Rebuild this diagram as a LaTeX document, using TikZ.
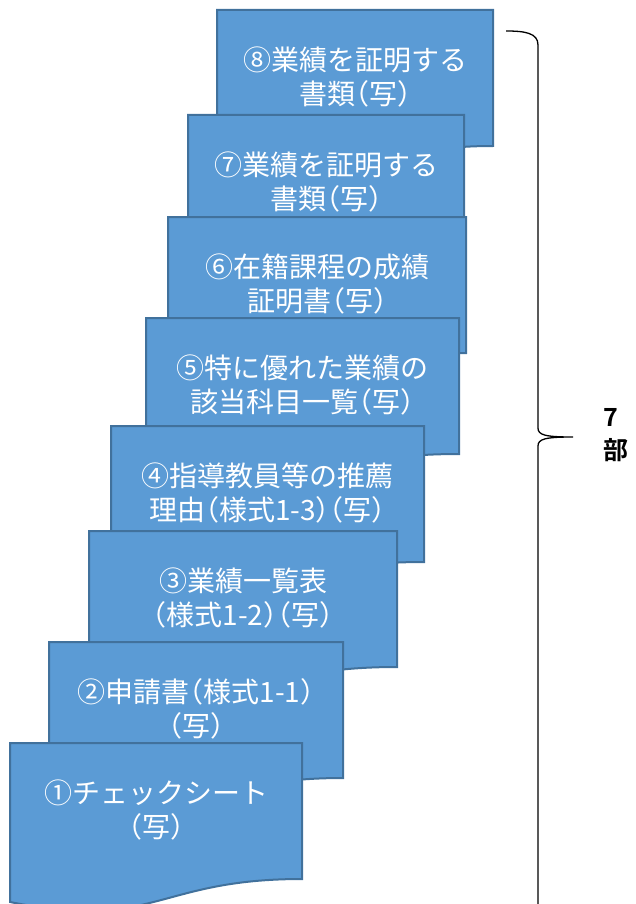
\documentclass[tikz,border=0pt]{standalone}
\usepackage{fontspec}
\usetikzlibrary{calc, positioning}
\newfontfamily\jpfont{Noto Sans CJK JP}[RawFeature=+halt, BoldFont={Noto Sans CJK JP Bold}]
\definecolor{doc_blue}{RGB}{91, 155, 213}
\definecolor{doc_border}{RGB}{65, 113, 156}
\tikzset {
  docpage/.style = {draw=doc_border, fill=doc_blue, line width=2pt, line join=miter},
  doctext/.style = {text=white, align=center, inner sep=0, font=\jpfont\fontsize{28}{34}\selectfont},
  bracket/.style = {draw, black, line width=1.3pt},
  countlabel/.style = {align=left, anchor=north west, inner sep=0, font=\jpfont\bfseries\fontsize{25}{33}\selectfont},
}

\begin{document}
\begin{tikzpicture}[x=1pt, y=-1pt]
  \useasboundingbox (0,0) rectangle (635,904);

  % pages, back to front: name/left/top/width/text
  \foreach \n/\l/\t/\w/\txt in {
      page8/217/10/276/{⑧業績を証明する\\書類（写）},
      page7/188/115/276/{⑦業績を証明する\\書類（写）},
      page6/168/217/298/{⑥在籍課程の成績\\証明書（写）},
      page5/146/318/313/{⑤特に優れた業績の\\該当科目一覧（写）},
      page4/111/426/313/{④指導教員等の推薦\\理由（様式1-3）（写）},
      page3/89/531/308/{③業績一覧表\\（様式1-2）（写）},
      page2/49/642/294/{②申請書（様式1-1）\\（写）},
      page1/10/743/292/{①チェックシート\\（写）}} {
    \draw[docpage] (\l,\t) -- (\l+\w,\t) -- (\l+\w,\t+136)
      .. controls (\l+\w/2,\t+136) and (\l+\w/2,\t+188) .. (\l,\t+159) -- cycle;
    \node[doctext] (\n) at (\l+\w/2,\t+67) {\txt};
  }

  % brace with the count
  \draw[bracket] (506,31) .. controls (525,31) and (538,33) .. (538,45) -- (538,428)
    .. controls (538,435) and (545,437) .. (573,437)
    .. controls (545,437) and (538,439) .. (538,446) -- (538,910);
  \node[countlabel] (count) at (603,408) {7\\部};

\end{tikzpicture}
\end{document}
